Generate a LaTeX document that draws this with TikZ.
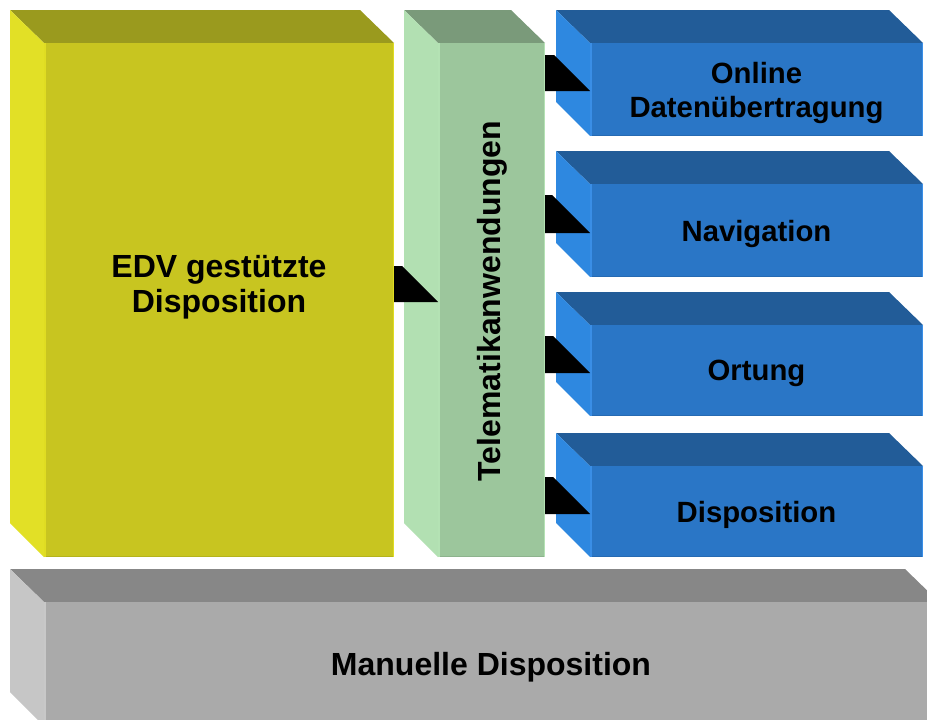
\documentclass[tikz,border=0pt]{standalone}
\usepackage{fontspec}
\setmainfont{Liberation Sans}
\usetikzlibrary{calc}
\definecolor{yfront}{HTML}{C8C520}
\definecolor{ytop}{HTML}{9A9A1E}
\definecolor{yleft}{HTML}{E2E026}
\definecolor{yedge}{HTML}{E0DD22}
\definecolor{ybot}{HTML}{B5B31C}
\definecolor{gfront}{HTML}{9CC69C}
\definecolor{gtop}{HTML}{7A9A7A}
\definecolor{gleft}{HTML}{B2E0B2}
\definecolor{gedge}{HTML}{B4E2B4}
\definecolor{gbot}{HTML}{8DB38D}
\definecolor{bfront}{HTML}{2A76C6}
\definecolor{btop}{HTML}{225C98}
\definecolor{bleft}{HTML}{2E88E0}
\definecolor{bedge}{HTML}{3A8EE6}
\definecolor{bbot}{HTML}{266AB2}
\definecolor{afront}{HTML}{AAAAAA}
\definecolor{atop}{HTML}{878787}
\definecolor{aleft}{HTML}{C6C6C6}
\definecolor{aedge}{HTML}{C8C8C8}
\definecolor{abot}{HTML}{999999}
\tikzset{
  frontface/.style={inner sep=0pt, outer sep=0pt, draw=none, rectangle},
  lbl/.style={font=\bfseries\fontsize{32}{35}\selectfont, align=center, text=black, inner sep=0pt},
  slbl/.style={font=\bfseries\fontsize{29.3}{34}\selectfont, align=center, text=black, inner sep=0pt},
  conn/.style={fill=black}
}
\newcommand\cubebox[6]{%
  \fill[#6top] (#2-34,#3-33) -- (#4-34,#3-33) -- (#4,#3) -- (#2,#3) -- cycle;
  \fill[#6left] (#2-34,#3-33) -- (#2,#3) -- (#2,#5) -- (#2-34,#5-34) -- cycle;
  \node[frontface, fill=#6front, minimum width={#4-#2}, minimum height={#5-#3}] (#1) at ({(#2+#4)/2},{(#3+#5)/2}) {};
  \draw[#6bot, line width=1.5pt] ([yshift=0.75pt]#1.south west) -- ([yshift=0.75pt]#1.south east);
  \draw[#6edge, line width=1.5pt] ([xshift=0.75pt]#1.north west) -- ([xshift=0.75pt]#1.south west);
  \draw[#6edge, line width=1.5pt] ([xshift=-0.75pt]#1.north east) -- ([xshift=-0.75pt]#1.south east);
}
\newcommand\connector[4]{%
  \fill[conn] (#1.east |- 0,#3) -- ($(#2.west |- 0,#3)+({#3-#4},0)$) -- (#2.west |- 0,#4) -- (#1.east |- 0,#4) -- cycle;
}
\begin{document}
\begin{tikzpicture}[x=1pt,y=-1pt]
\useasboundingbox (0,0) rectangle (927,720);
\fill[white] (0,0) rectangle (927,720);
\cubebox{yel}{44}{43}{394}{557}{y}
\cubebox{grn}{438}{43}{545}{557}{g}
\cubebox{bl1}{590}{43}{923}{136}{b}
\cubebox{bl2}{590}{184}{923}{277}{b}
\cubebox{bl3}{590}{325}{923}{416}{b}
\cubebox{bl4}{590}{466}{923}{557}{b}
\cubebox{man}{44}{602}{939}{726}{a}
\node[lbl] (yeltxt) at (219,287) {EDV gestützte\\Disposition};
\node[lbl, rotate=90] (grntxt) at ($(grn.center)+(1,1)$) {Telematikanwendungen};
\node[slbl] (bl1txt) at ($(bl1.center)+(0,3.5)$) {Online\\Datenübertragung};
\node[slbl] (bl2txt) at ($(bl2.center)+(0,3)$) {Navigation};
\node[slbl] (bl3txt) at ($(bl3.center)+(0,3)$) {Ortung};
\node[slbl] (bl4txt) at ($(bl4.center)+(0,3)$) {Disposition};
\node[lbl] (mantxt) at (491,667) {Manuelle Disposition};
\connector{yel}{grn}{266}{302}
\connector{grn}{bl1}{55}{91}
\connector{grn}{bl2}{195}{233}
\connector{grn}{bl3}{336}{373}
\connector{grn}{bl4}{477}{514}
\end{tikzpicture}
\end{document}
